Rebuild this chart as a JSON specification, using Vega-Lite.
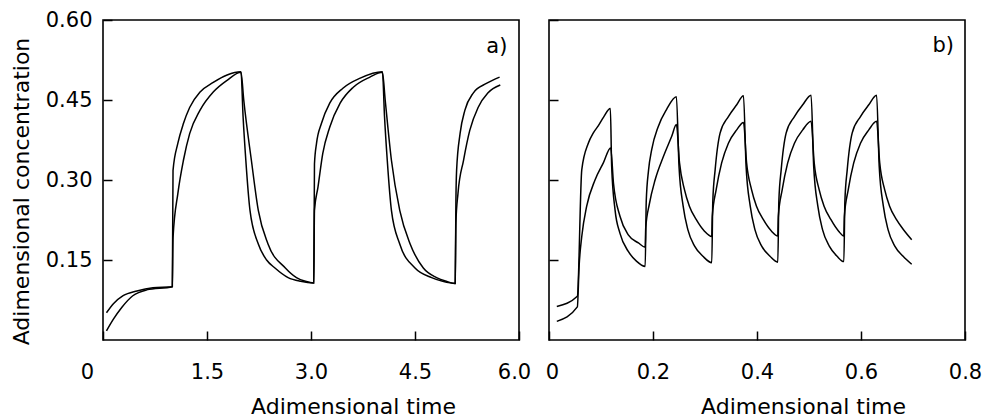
{
  "$schema": "https://vega.github.io/schema/vega-lite/v6.json",
  "padding": {"left": 9, "top": 8, "right": 0, "bottom": 0},
  "autosize": {"type": "pad"},
  "spacing": 12,
  "config": {
    "view": {"stroke": "black", "strokeWidth": 1.6},
    "font": "DejaVu Sans",
    "axis": {
      "grid": false, "domain": false, "tickColor": "black", "tickSize": 9, "tickWidth": 1.5, "offset": -9,
      "labelFont": "DejaVu Sans", "labelFontSize": 21, "labelColor": "black", "labelFlush": false,
      "titleFont": "DejaVu Sans", "titleFontSize": 22, "titleFontWeight": "normal", "titleColor": "black"
    }
  },
  "datasets": {
    "a": [
      {"s":"fast","t":0.05,"c":0.051},{"s":"fast","t":0.15,"c":0.068},{"s":"fast","t":0.29,"c":0.083},{"s":"fast","t":0.49,"c":0.092},{"s":"fast","t":0.72,"c":0.098},{"s":"fast","t":1.0,"c":0.10},
      {"s":"fast","t":1.01,"c":0.318},{"s":"fast","t":1.08,"c":0.369},{"s":"fast","t":1.16,"c":0.406},{"s":"fast","t":1.25,"c":0.436},{"s":"fast","t":1.40,"c":0.465},{"s":"fast","t":1.59,"c":0.483},{"s":"fast","t":1.79,"c":0.497},{"s":"fast","t":1.99,"c":0.503},
      {"s":"fast","t":2.02,"c":0.42},{"s":"fast","t":2.06,"c":0.337},{"s":"fast","t":2.12,"c":0.243},{"s":"fast","t":2.24,"c":0.18},{"s":"fast","t":2.36,"c":0.15},{"s":"fast","t":2.48,"c":0.135},{"s":"fast","t":2.67,"c":0.117},{"s":"fast","t":2.85,"c":0.11},{"s":"fast","t":3.04,"c":0.107},
      {"s":"fast","t":3.05,"c":0.33},{"s":"fast","t":3.08,"c":0.369},{"s":"fast","t":3.15,"c":0.406},{"s":"fast","t":3.27,"c":0.444},{"s":"fast","t":3.46,"c":0.472},{"s":"fast","t":3.71,"c":0.491},{"s":"fast","t":4.03,"c":0.503},
      {"s":"fast","t":4.06,"c":0.42},{"s":"fast","t":4.10,"c":0.337},{"s":"fast","t":4.16,"c":0.243},{"s":"fast","t":4.28,"c":0.18},{"s":"fast","t":4.50,"c":0.135},{"s":"fast","t":4.74,"c":0.117},{"s":"fast","t":4.9,"c":0.11},{"s":"fast","t":5.08,"c":0.106},
      {"s":"fast","t":5.09,"c":0.26},{"s":"fast","t":5.10,"c":0.318},{"s":"fast","t":5.15,"c":0.387},{"s":"fast","t":5.22,"c":0.431},{"s":"fast","t":5.34,"c":0.463},{"s":"fast","t":5.53,"c":0.481},{"s":"fast","t":5.72,"c":0.493},
      {"s":"slow","t":0.05,"c":0.017},{"s":"slow","t":0.15,"c":0.039},{"s":"slow","t":0.27,"c":0.061},{"s":"slow","t":0.43,"c":0.083},{"s":"slow","t":0.63,"c":0.094},{"s":"slow","t":1.0,"c":0.10},
      {"s":"slow","t":1.01,"c":0.192},{"s":"slow","t":1.08,"c":0.275},{"s":"slow","t":1.16,"c":0.337},{"s":"slow","t":1.25,"c":0.387},{"s":"slow","t":1.40,"c":0.431},{"s":"slow","t":1.59,"c":0.465},{"s":"slow","t":1.79,"c":0.487},{"s":"slow","t":1.99,"c":0.502},
      {"s":"slow","t":2.03,"c":0.45},{"s":"slow","t":2.14,"c":0.337},{"s":"slow","t":2.24,"c":0.243},{"s":"slow","t":2.38,"c":0.18},{"s":"slow","t":2.63,"c":0.135},{"s":"slow","t":2.79,"c":0.117},{"s":"slow","t":2.92,"c":0.11},{"s":"slow","t":3.04,"c":0.107},
      {"s":"slow","t":3.05,"c":0.243},{"s":"slow","t":3.10,"c":0.286},{"s":"slow","t":3.17,"c":0.35},{"s":"slow","t":3.27,"c":0.399},{"s":"slow","t":3.42,"c":0.444},{"s":"slow","t":3.61,"c":0.474},{"s":"slow","t":3.85,"c":0.493},{"s":"slow","t":4.03,"c":0.502},
      {"s":"slow","t":4.07,"c":0.45},{"s":"slow","t":4.16,"c":0.337},{"s":"slow","t":4.28,"c":0.243},{"s":"slow","t":4.43,"c":0.18},{"s":"slow","t":4.62,"c":0.135},{"s":"slow","t":4.81,"c":0.117},{"s":"slow","t":4.95,"c":0.11},{"s":"slow","t":5.08,"c":0.106},
      {"s":"slow","t":5.09,"c":0.22},{"s":"slow","t":5.12,"c":0.275},{"s":"slow","t":5.20,"c":0.337},{"s":"slow","t":5.29,"c":0.393},{"s":"slow","t":5.41,"c":0.436},{"s":"slow","t":5.55,"c":0.463},{"s":"slow","t":5.73,"c":0.478}
    ],
    "b": [
      {"s":"fast","t":0.015,"c":0.063},{"s":"fast","t":0.0545,"c":0.082},{"s":"fast","t":0.063,"c":0.319},{"s":"fast","t":0.0756,"c":0.369},{"s":"fast","t":0.085,"c":0.388},{"s":"fast","t":0.095,"c":0.402},{"s":"fast","t":0.105,"c":0.418},{"s":"fast","t":0.118,"c":0.434},
      {"s":"fast","t":0.1205,"c":0.326},{"s":"fast","t":0.127,"c":0.244},{"s":"fast","t":0.1365,"c":0.2},{"s":"fast","t":0.1525,"c":0.166},{"s":"fast","t":0.1686,"c":0.1475},{"s":"fast","t":0.185,"c":0.138},
      {"s":"fast","t":0.187,"c":0.26},{"s":"fast","t":0.1915,"c":0.319},{"s":"fast","t":0.1975,"c":0.357},{"s":"fast","t":0.21,"c":0.40},{"s":"fast","t":0.226,"c":0.432},{"s":"fast","t":0.245,"c":0.456},
      {"s":"fast","t":0.250,"c":0.326},{"s":"fast","t":0.258,"c":0.251},{"s":"fast","t":0.267,"c":0.207},{"s":"fast","t":0.280,"c":0.176},{"s":"fast","t":0.296,"c":0.157},{"s":"fast","t":0.313,"c":0.145},
      {"s":"fast","t":0.315,"c":0.26},{"s":"fast","t":0.3195,"c":0.319},{"s":"fast","t":0.329,"c":0.388},{"s":"fast","t":0.345,"c":0.419},{"s":"fast","t":0.361,"c":0.441},{"s":"fast","t":0.374,"c":0.458},
      {"s":"fast","t":0.379,"c":0.326},{"s":"fast","t":0.387,"c":0.251},{"s":"fast","t":0.396,"c":0.207},{"s":"fast","t":0.409,"c":0.176},{"s":"fast","t":0.425,"c":0.157},{"s":"fast","t":0.44,"c":0.146},
      {"s":"fast","t":0.442,"c":0.26},{"s":"fast","t":0.4465,"c":0.319},{"s":"fast","t":0.456,"c":0.388},{"s":"fast","t":0.472,"c":0.419},{"s":"fast","t":0.488,"c":0.441},{"s":"fast","t":0.504,"c":0.459},
      {"s":"fast","t":0.509,"c":0.326},{"s":"fast","t":0.517,"c":0.251},{"s":"fast","t":0.526,"c":0.207},{"s":"fast","t":0.539,"c":0.176},{"s":"fast","t":0.554,"c":0.157},{"s":"fast","t":0.567,"c":0.147},
      {"s":"fast","t":0.569,"c":0.26},{"s":"fast","t":0.5735,"c":0.319},{"s":"fast","t":0.583,"c":0.388},{"s":"fast","t":0.599,"c":0.419},{"s":"fast","t":0.615,"c":0.441},{"s":"fast","t":0.63,"c":0.459},
      {"s":"fast","t":0.635,"c":0.326},{"s":"fast","t":0.643,"c":0.251},{"s":"fast","t":0.652,"c":0.207},{"s":"fast","t":0.665,"c":0.176},{"s":"fast","t":0.681,"c":0.157},{"s":"fast","t":0.6975,"c":0.142},
      {"s":"slow","t":0.015,"c":0.035},{"s":"slow","t":0.0545,"c":0.062},{"s":"slow","t":0.058,"c":0.14},{"s":"slow","t":0.063,"c":0.194},{"s":"slow","t":0.0725,"c":0.251},{"s":"slow","t":0.0885,"c":0.30},{"s":"slow","t":0.1045,"c":0.332},{"s":"slow","t":0.1186,"c":0.36},
      {"s":"slow","t":0.124,"c":0.294},{"s":"slow","t":0.1365,"c":0.232},{"s":"slow","t":0.1525,"c":0.197},{"s":"slow","t":0.172,"c":0.182},{"s":"slow","t":0.185,"c":0.174},
      {"s":"slow","t":0.186,"c":0.21},{"s":"slow","t":0.193,"c":0.255},{"s":"slow","t":0.204,"c":0.30},{"s":"slow","t":0.22,"c":0.344},{"s":"slow","t":0.236,"c":0.382},{"s":"slow","t":0.245,"c":0.404},
      {"s":"slow","t":0.251,"c":0.332},{"s":"slow","t":0.2605,"c":0.282},{"s":"slow","t":0.270,"c":0.251},{"s":"slow","t":0.283,"c":0.226},{"s":"slow","t":0.299,"c":0.204},{"s":"slow","t":0.313,"c":0.194},
      {"s":"slow","t":0.314,"c":0.232},{"s":"slow","t":0.3215,"c":0.282},{"s":"slow","t":0.332,"c":0.332},{"s":"slow","t":0.345,"c":0.369},{"s":"slow","t":0.361,"c":0.394},{"s":"slow","t":0.374,"c":0.408},
      {"s":"slow","t":0.380,"c":0.332},{"s":"slow","t":0.3895,"c":0.282},{"s":"slow","t":0.399,"c":0.251},{"s":"slow","t":0.412,"c":0.226},{"s":"slow","t":0.428,"c":0.204},{"s":"slow","t":0.44,"c":0.195},
      {"s":"slow","t":0.441,"c":0.232},{"s":"slow","t":0.4485,"c":0.282},{"s":"slow","t":0.459,"c":0.332},{"s":"slow","t":0.472,"c":0.369},{"s":"slow","t":0.488,"c":0.394},{"s":"slow","t":0.504,"c":0.41},
      {"s":"slow","t":0.510,"c":0.332},{"s":"slow","t":0.5195,"c":0.282},{"s":"slow","t":0.529,"c":0.251},{"s":"slow","t":0.542,"c":0.226},{"s":"slow","t":0.557,"c":0.204},{"s":"slow","t":0.567,"c":0.195},
      {"s":"slow","t":0.568,"c":0.232},{"s":"slow","t":0.5755,"c":0.282},{"s":"slow","t":0.586,"c":0.332},{"s":"slow","t":0.599,"c":0.369},{"s":"slow","t":0.615,"c":0.394},{"s":"slow","t":0.63,"c":0.41},
      {"s":"slow","t":0.636,"c":0.332},{"s":"slow","t":0.6455,"c":0.282},{"s":"slow","t":0.655,"c":0.251},{"s":"slow","t":0.668,"c":0.226},{"s":"slow","t":0.684,"c":0.204},{"s":"slow","t":0.6975,"c":0.188}
    ]
  },
  "hconcat": [
    {
      "width": 416, "height": 320,
      "layer": [
        {
          "data": {"name": "a"},
          "mark": {"type": "line", "color": "black", "strokeWidth": 1.5, "interpolate": "monotone"},
          "encoding": {
            "x": {"field": "t", "type": "quantitative", "scale": {"domain": [0, 6], "nice": false},
              "axis": {"values": [0, 1.5, 3, 4.5, 6], "labelExpr": "datum.value == 0 ? '0' : format(datum.value, '.1f')",
                "labelPadding": 21, "labelOffset": {"condition": [{"test": "datum.value == 0", "value": -16}, {"test": "datum.value == 6", "value": -5}], "value": 0},
                "title": "Adimensional time", "titleX": 250, "titlePadding": 14}},
            "y": {"field": "c", "type": "quantitative", "scale": {"domain": [0, 0.6], "nice": false},
              "axis": {"values": [0.15, 0.3, 0.45, 0.6], "format": ".2f", "labelPadding": 11,
                "title": "Adimensional concentration", "titlePadding": 12, "titleY": 171}},
            "detail": {"field": "s"}
          }
        },
        {
          "data": {"values": [{"t": 5.68, "c": 0.55, "label": "a)"}]},
          "mark": {"type": "text", "fontSize": 21, "font": "DejaVu Sans", "color": "black"},
          "encoding": {
            "x": {"field": "t", "type": "quantitative"},
            "y": {"field": "c", "type": "quantitative"},
            "text": {"field": "label"}
          }
        }
      ]
    },
    {
      "width": 416, "height": 320,
      "layer": [
        {
          "data": {"name": "b"},
          "mark": {"type": "line", "color": "black", "strokeWidth": 1.5, "interpolate": "monotone"},
          "encoding": {
            "x": {"field": "t", "type": "quantitative", "scale": {"domain": [0, 0.8], "nice": false},
              "axis": {"values": [0, 0.2, 0.4, 0.6, 0.8], "labelExpr": "datum.value == 0 ? '0' : format(datum.value, '.1f')",
                "labelPadding": 21, "labelOffset": {"condition": {"test": "datum.value == 0", "value": 3}, "value": 0},
                "title": "Adimensional time", "titleX": 254, "titlePadding": 14}},
            "y": {"field": "c", "type": "quantitative", "scale": {"domain": [0, 0.6], "nice": false},
              "axis": {"values": [0.15, 0.3, 0.45, 0.6], "labels": false, "title": null}},
            "detail": {"field": "s"}
          }
        },
        {
          "data": {"values": [{"t": 0.758, "c": 0.552, "label": "b)"}]},
          "mark": {"type": "text", "fontSize": 21, "font": "DejaVu Sans", "color": "black"},
          "encoding": {
            "x": {"field": "t", "type": "quantitative"},
            "y": {"field": "c", "type": "quantitative"},
            "text": {"field": "label"}
          }
        }
      ]
    }
  ]
}
